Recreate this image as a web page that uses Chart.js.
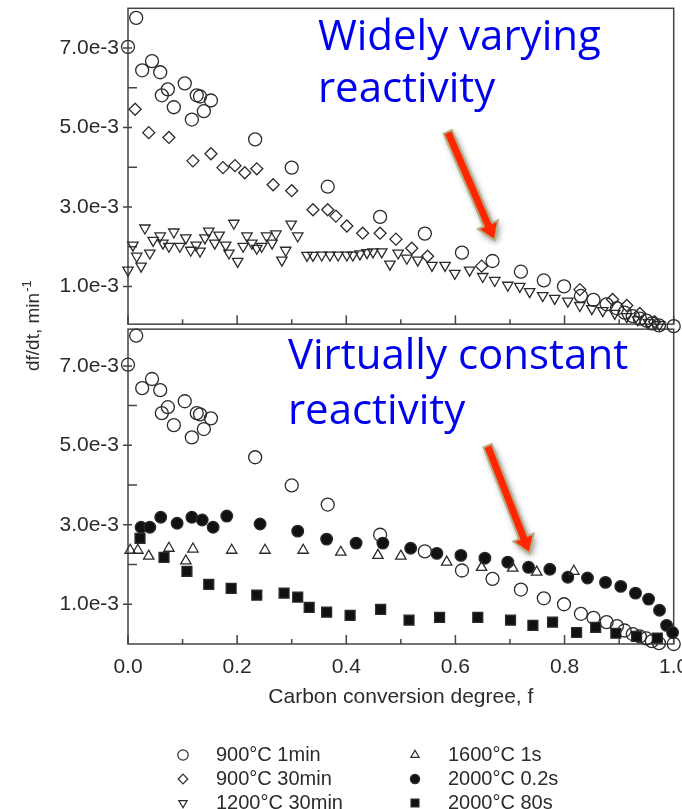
<!DOCTYPE html>
<html>
<head>
<meta charset="utf-8">
<title>Reactivity vs carbon conversion</title>
<script src="https://cdn.jsdelivr.net/npm/chart.js@4.4.1/dist/chart.umd.min.js"></script>
<style>
  html, body { margin: 0; padding: 0; background: #fff; }
  #wrap { width: 682px; height: 809px; }
</style>
</head>
<body>
<div id="wrap"><canvas id="chart" width="682" height="809"></canvas></div>
<script>
// Rates are in units of 1e-3 min^-1, conversion f is dimensionless

// 900°C 1min (open circles, plotted in both panels)
const f900c1min = [0.0, 0.015, 0.026, 0.044, 0.059, 0.062, 0.073, 0.084, 0.104, 0.117, 0.126, 0.132, 0.139, 0.152,
  0.233, 0.300, 0.366, 0.462, 0.544, 0.612, 0.668, 0.720, 0.762, 0.799, 0.830, 0.853, 0.877, 0.896, 0.910, 0.925,
  0.938, 0.950, 0.960, 0.973, 1.0];
const r900c1min = [7.03, 7.76, 6.44, 6.67, 6.39, 5.81, 5.96, 5.51, 6.11, 5.20, 5.81, 5.78, 5.41, 5.68,
  4.70, 3.99, 3.51, 2.75, 2.33, 1.85, 1.64, 1.37, 1.15, 1.00, 0.76, 0.66, 0.55, 0.45, 0.34, 0.25,
  0.19, 0.14, 0.07, 0.02, 0.0];

// 900°C 30min (open diamonds)
const f900c30min = [0.013, 0.038, 0.075, 0.119, 0.152, 0.174, 0.196, 0.214, 0.236, 0.266, 0.300, 0.339, 0.366,
  0.381, 0.401, 0.430, 0.462, 0.491, 0.520, 0.549, 0.648, 0.828, 0.888, 0.914, 0.938, 0.965];
const r900c30min = [5.46, 4.87, 4.75, 4.16, 4.34, 3.99, 4.04, 3.86, 3.96, 3.56, 3.41, 2.93, 2.93,
  2.77, 2.52, 2.34, 2.34, 2.19, 1.96, 1.76, 1.51, 0.92, 0.67, 0.52, 0.32, 0.11];

// 1200°C 30min (open triangles, point down)
const f1200c30min = [0.0, 0.009, 0.016, 0.024, 0.031, 0.040, 0.046, 0.059, 0.064, 0.075, 0.084, 0.095, 0.106,
  0.115, 0.125, 0.132, 0.141, 0.148, 0.159, 0.167, 0.179, 0.185, 0.194, 0.201, 0.211, 0.218, 0.227, 0.236,
  0.245, 0.254, 0.264, 0.271, 0.282, 0.289, 0.299, 0.311, 0.328, 0.339, 0.355, 0.370, 0.385, 0.401, 0.412,
  0.425, 0.438, 0.449, 0.465, 0.480, 0.495, 0.511, 0.531, 0.557, 0.581, 0.599, 0.626, 0.650, 0.672, 0.696,
  0.718, 0.736, 0.760, 0.782, 0.806, 0.828, 0.850, 0.870, 0.892, 0.914, 0.934, 0.954, 0.974];
const r1200c30min = [1.41, 2.04, 1.76, 1.51, 2.47, 1.84, 2.16, 2.27, 2.09, 2.01, 2.37, 2.01, 2.22,
  1.91, 2.04, 1.89, 2.22, 2.39, 2.09, 2.29, 2.04, 1.84, 2.59, 1.63, 2.01, 2.27, 2.09, 1.96,
  2.01, 2.27, 2.09, 2.32, 1.66, 1.91, 2.57, 2.27, 1.78, 1.78, 1.79, 1.79, 1.79, 1.79, 1.79,
  1.82, 1.85, 1.87, 1.87, 1.56, 1.84, 1.71, 1.66, 1.53, 1.53, 1.33, 1.41, 1.25, 1.15, 1.03,
  1.00, 0.87, 0.77, 0.70, 0.63, 0.52, 0.44, 0.39, 0.32, 0.24, 0.16, 0.09, 0.04];

// 1600°C 1s (open triangles, point up)
const f1600c1s = [0.004, 0.018, 0.038, 0.075, 0.106, 0.119, 0.190, 0.251, 0.321, 0.390, 0.458, 0.500,
  0.584, 0.648, 0.705, 0.749, 0.817];
const r1600c1s = [2.36, 2.36, 2.21, 2.41, 2.09, 2.39, 2.36, 2.36, 2.36, 2.31, 2.23, 2.21,
  2.06, 1.93, 1.91, 1.81, 1.83];

// 2000°C 0.2s (filled circles)
const f2000c02s = [0.024, 0.040, 0.060, 0.090, 0.117, 0.136, 0.156, 0.181, 0.242, 0.311, 0.364, 0.418, 0.467,
  0.518, 0.566, 0.610, 0.654, 0.696, 0.734, 0.773, 0.806, 0.842, 0.875, 0.903, 0.930, 0.954, 0.974, 0.987, 0.998];
const r2000c02s = [2.94, 2.94, 3.19, 3.04, 3.19, 3.12, 2.94, 3.22, 3.02, 2.84, 2.64, 2.54, 2.54,
  2.41, 2.28, 2.23, 2.16, 2.06, 1.93, 1.88, 1.68, 1.66, 1.55, 1.45, 1.28, 1.13, 0.85, 0.47, 0.29];

// 2000°C 80s (filled squares)
const f2000c80s = [0.022, 0.066, 0.108, 0.148, 0.189, 0.236, 0.286, 0.311, 0.332, 0.364, 0.407, 0.463,
  0.515, 0.571, 0.641, 0.701, 0.742, 0.778, 0.822, 0.857, 0.894, 0.932, 0.970];
const r2000c80s = [2.66, 2.18, 1.83, 1.50, 1.40, 1.23, 1.28, 1.18, 0.92, 0.80, 0.72, 0.87,
  0.60, 0.67, 0.67, 0.60, 0.47, 0.55, 0.29, 0.42, 0.27, 0.19, 0.15];

const seriesLabels = ['900°C 1min', '900°C 30min', '1200°C 30min', '1600°C 1s', '2000°C 0.2s', '2000°C 80s'];

const xTicks = [0, 0.2, 0.4, 0.6, 0.8, 1.0];
const xMinorTicks = [0.1, 0.3, 0.5, 0.7, 0.9];
const yTicks = [1, 3, 5, 7];
const yMinorTicks = [2, 4, 6];

const ink = '#2b2b2b';
const hollow = 'rgba(0,0,0,0)';
const sans = '"Liberation Sans", Arial, sans-serif';

// marker look for each series, same order as seriesLabels
const markers = [
  { style: 'circle', radius: 6.5, rotation: 0, fill: hollow },
  { style: 'rectRot', radius: 6, rotation: 0, fill: hollow },
  { style: 'triangle', radius: 6, rotation: 180, fill: hollow },
  { style: 'triangle', radius: 6, rotation: 0, fill: hollow },
  { style: 'circle', radius: 5.8, rotation: 0, fill: '#111' },
  { style: 'rect', radius: 7, rotation: 0, fill: '#111' }
];

function scatter(i, fs, rs, axis) {
  const m = markers[i];
  return {
    label: seriesLabels[i],
    data: fs.map((f, k) => ({ x: f, y: rs[k] })),
    yAxisID: axis,
    showLine: false,
    pointStyle: m.style,
    pointRadius: m.radius,
    pointRotation: m.rotation,
    pointBackgroundColor: m.fill,
    pointBorderColor: ink,
    pointBorderWidth: 1.3,
    clip: false
  };
}

// frame, tick marks and panel split
const panelFrame = {
  id: 'panelFrame',
  beforeDatasetsDraw(chart) {
    const { ctx, scales: { x, yTop, yBot } } = chart;
    ctx.save();
    ctx.strokeStyle = '#444';
    ctx.lineWidth = 1.5;
    [[yTop, 0, -2], [yBot, 3, 0]].forEach(([y, insetTop, insetBottom]) => {
      const top = y.top + insetTop;
      const bottom = y.bottom + insetBottom;
      ctx.strokeRect(x.left, top, x.right - x.left, bottom - top);
      ctx.beginPath();
      xTicks.forEach(v => {
        const px = x.getPixelForValue(v);
        ctx.moveTo(px, bottom);
        ctx.lineTo(px, bottom - 9);
      });
      xMinorTicks.forEach(v => {
        const px = x.getPixelForValue(v);
        ctx.moveTo(px, bottom);
        ctx.lineTo(px, bottom - 5);
      });
      yTicks.forEach(v => {
        const py = y.getPixelForValue(v);
        ctx.moveTo(x.left - 5, py);
        ctx.lineTo(x.left + 4, py);
      });
      yMinorTicks.forEach(v => {
        const py = y.getPixelForValue(v);
        ctx.moveTo(x.left, py);
        ctx.lineTo(x.left + 9, py);
      });
      ctx.stroke();
    });
    ctx.restore();
  }
};

// callouts: text lines and arrows, placed in data units of each panel
const notes = [
  { axis: 'yTop', f: 0.348, r: 6.95, text: 'Widely varying' },
  { axis: 'yTop', f: 0.348, r: 5.64, text: 'reactivity' },
  { axis: 'yBot', f: 0.293, r: 6.92, text: 'Virtually constant' },
  { axis: 'yBot', f: 0.293, r: 5.54, text: 'reactivity' }
];
const arrows = [
  { axis: 'yTop', from: [0.586, 4.89], to: [0.672, 2.16] },
  { axis: 'yBot', from: [0.659, 4.99], to: [0.736, 2.28] }
];

function drawArrow(ctx, x0, y0, x1, y1) {
  const ang = Math.atan2(y1 - y0, x1 - x0);
  const len = Math.hypot(x1 - x0, y1 - y0);
  const shaft = 4.5, head = 11, headLen = 17;
  ctx.save();
  ctx.translate(x0, y0);
  ctx.rotate(ang);
  ctx.beginPath();
  ctx.moveTo(0, -shaft);
  ctx.lineTo(len - headLen, -shaft);
  ctx.lineTo(len - headLen, -head);
  ctx.lineTo(len, 0);
  ctx.lineTo(len - headLen, head);
  ctx.lineTo(len - headLen, shaft);
  ctx.lineTo(0, shaft);
  ctx.closePath();
  ctx.shadowColor = 'rgba(0,0,0,0.45)';
  ctx.shadowBlur = 6;
  ctx.shadowOffsetX = 2;
  ctx.shadowOffsetY = 3;
  ctx.fillStyle = '#ff2600';
  ctx.fill();
  ctx.shadowColor = 'transparent';
  ctx.strokeStyle = '#b8ac84';
  ctx.lineWidth = 2;
  ctx.stroke();
  ctx.restore();
}

const figureText = {
  id: 'figureText',
  afterDraw(chart) {
    const { ctx, chartArea, scales } = chart;
    const x = scales.x;
    ctx.save();

    // shared y title
    ctx.save();
    ctx.translate(34, (chartArea.top + chartArea.bottom) / 2);
    ctx.rotate(-Math.PI / 2);
    ctx.fillStyle = ink;
    ctx.textBaseline = 'middle';
    ctx.font = '19px ' + sans;
    const main = 'df/dt, min';
    const w = ctx.measureText(main).width;
    ctx.font = '13px ' + sans;
    const sw = ctx.measureText('-1').width;
    const start = -(w + sw) / 2;
    ctx.font = '19px ' + sans;
    ctx.textAlign = 'left';
    ctx.fillText(main, start, 0);
    ctx.font = '13px ' + sans;
    ctx.fillText('-1', start + w + 1, -7);
    ctx.restore();

    // callout text
    ctx.fillStyle = '#0000f0';
    ctx.font = '42px "Open Sans", sans-serif';
    ctx.textAlign = 'left';
    ctx.textBaseline = 'alphabetic';
    notes.forEach(n => {
      const y = scales[n.axis];
      ctx.fillText(n.text, x.getPixelForValue(n.f), y.getPixelForValue(n.r));
    });

    arrows.forEach(a => {
      const y = scales[a.axis];
      drawArrow(ctx,
        x.getPixelForValue(a.from[0]), y.getPixelForValue(a.from[1]),
        x.getPixelForValue(a.to[0]), y.getPixelForValue(a.to[1]));
    });

    // legend, two columns of three
    const cols = [183, 415];
    ctx.font = '20px ' + sans;
    ctx.textBaseline = 'middle';
    seriesLabels.forEach((label, i) => {
      const col = Math.floor(i / 3);
      const row = i % 3;
      const cx = cols[col];
      const cy = chartArea.bottom + 111 + row * 24;
      const m = markers[i];
      ctx.fillStyle = m.fill;
      ctx.strokeStyle = ink;
      ctx.lineWidth = 1.2;
      Chart.helpers.drawPoint(ctx, {
        pointStyle: m.style, rotation: m.rotation, radius: m.radius * 0.8, borderWidth: 1.2
      }, cx, cy);
      ctx.fillStyle = ink;
      ctx.fillText(label, cx + 33, cy);
    });
    ctx.restore();
  }
};

const tickFont = { family: sans, size: 21 };

new Chart(document.getElementById('chart'), {
  type: 'scatter',
  data: {
    datasets: [
      scatter(2, f1200c30min, r1200c30min, 'yTop'),
      scatter(1, f900c30min, r900c30min, 'yTop'),
      scatter(0, f900c1min, r900c1min, 'yTop'),
      scatter(5, f2000c80s, r2000c80s, 'yBot'),
      scatter(3, f1600c1s, r1600c1s, 'yBot'),
      scatter(4, f2000c02s, r2000c02s, 'yBot'),
      scatter(0, f900c1min, r900c1min, 'yBot')
    ]
  },
  options: {
    responsive: false,
    animation: false,
    events: [],
    layout: { padding: { top: 6, right: 8, left: 0, bottom: 99 } },
    plugins: { legend: { display: false }, tooltip: { enabled: false } },
    scales: {
      x: {
        type: 'linear',
        position: 'bottom',
        min: 0,
        max: 1,
        afterBuildTicks: s => { s.ticks = xTicks.map(v => ({ value: v })); },
        afterFit: s => { s.height = 66; s.paddingLeft = 0; s.paddingRight = 0; },
        grid: { display: false },
        border: { display: false },
        ticks: { autoSkip: false, maxRotation: 0, padding: 3, color: ink, font: tickFont,
          callback: v => v.toFixed(1) },
        title: { display: true, text: 'Carbon conversion degree, f', color: ink,
          font: { family: sans, size: 21 }, padding: 0 }
      },
      yBot: {
        type: 'linear',
        position: 'left',
        stack: 'panels',
        min: 0,
        max: 8,
        afterBuildTicks: s => { s.ticks = yTicks.map(v => ({ value: v })); },
        afterFit: s => { s.width = 128; s.paddingTop = 0; s.paddingBottom = 0; },
        grid: { display: false },
        border: { display: false },
        ticks: { padding: 1, color: ink, font: tickFont, callback: v => v.toFixed(1) + 'e-3' }
      },
      yTop: {
        type: 'linear',
        position: 'left',
        stack: 'panels',
        min: 0,
        max: 8,
        afterBuildTicks: s => { s.ticks = yTicks.map(v => ({ value: v })); },
        afterFit: s => { s.width = 128; s.paddingTop = 0; s.paddingBottom = 0; },
        grid: { display: false },
        border: { display: false },
        ticks: { padding: 1, color: ink, font: tickFont, callback: v => v.toFixed(1) + 'e-3' }
      }
    }
  },
  plugins: [panelFrame, figureText]
});
</script>
</body>
</html>
